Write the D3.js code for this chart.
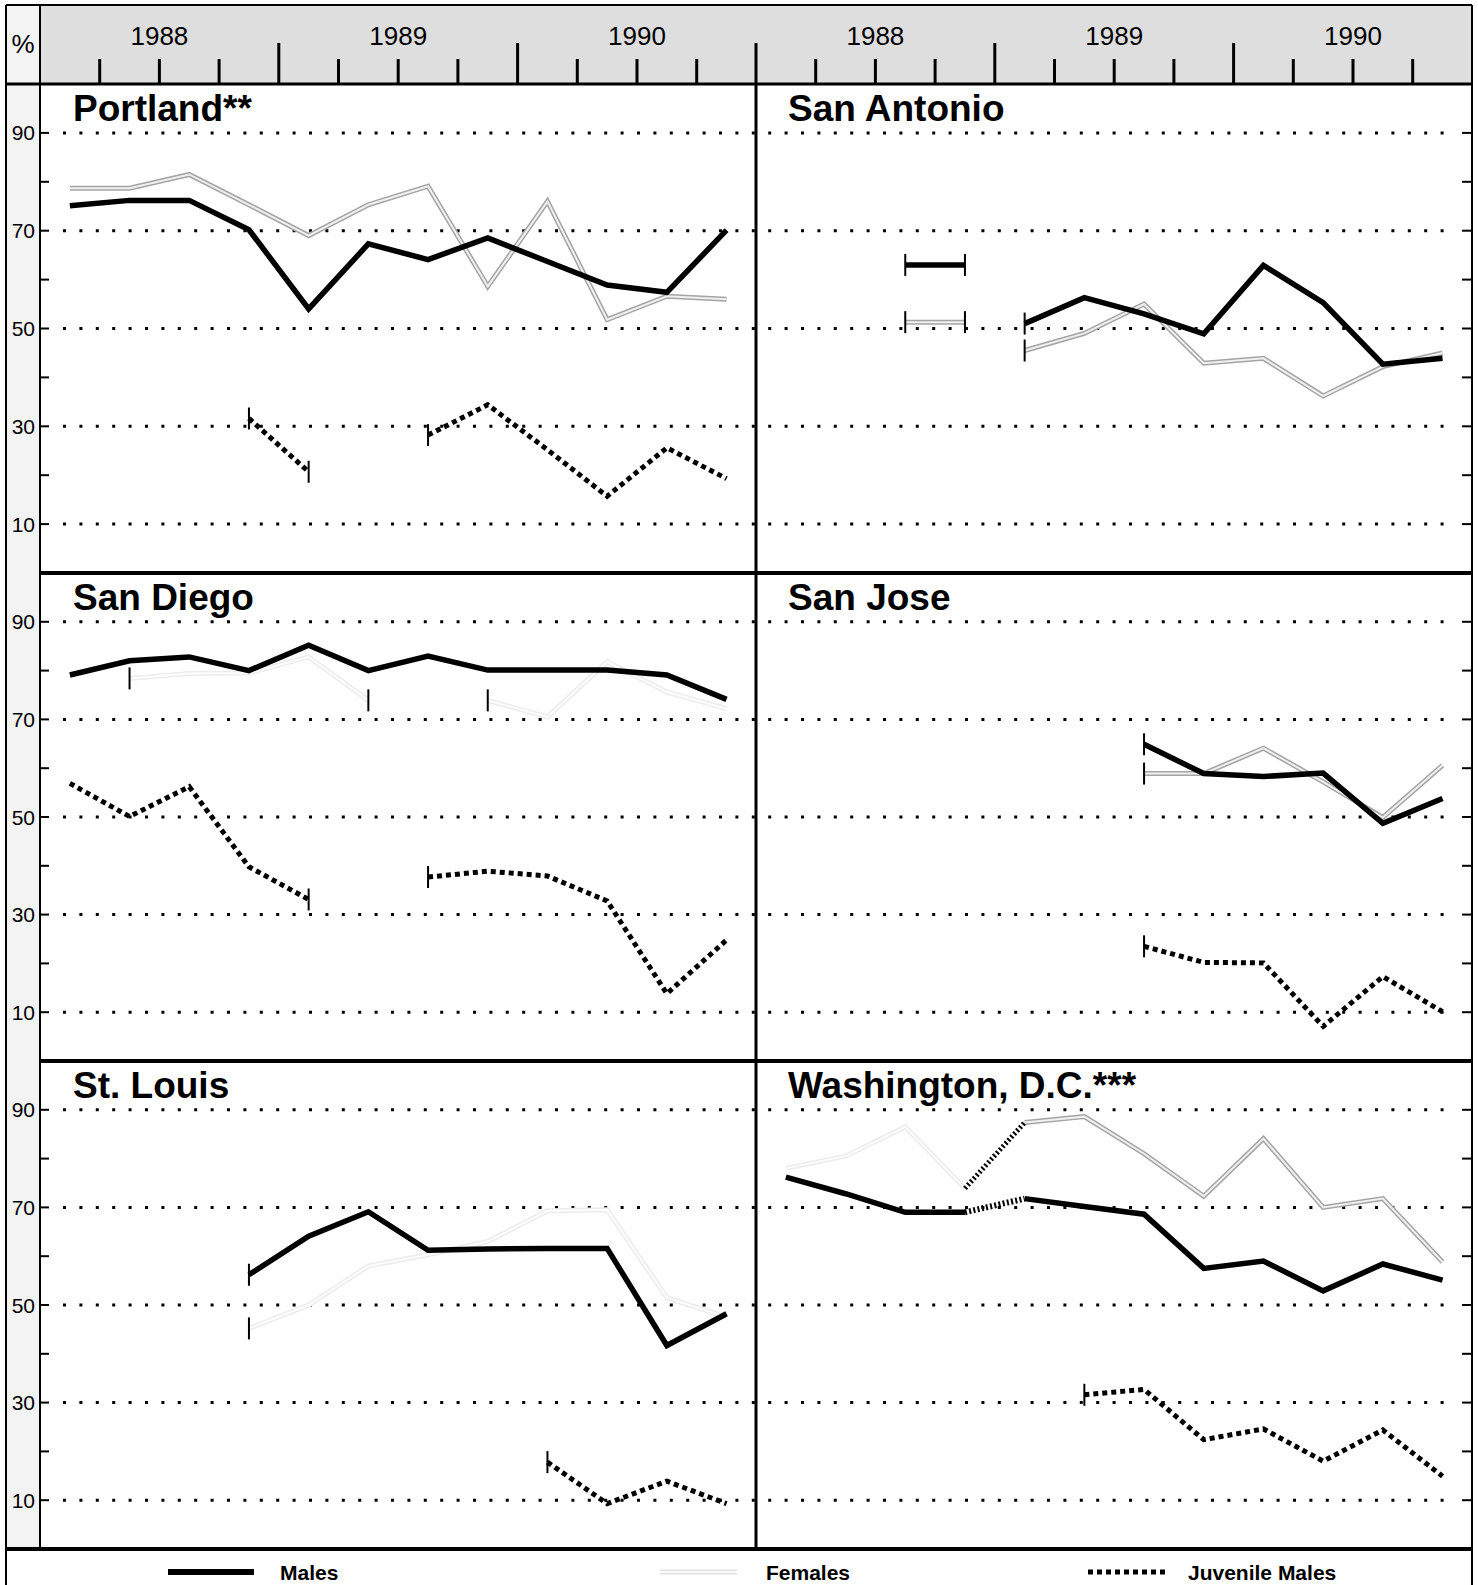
<!DOCTYPE html>
<html><head><meta charset="utf-8">
<script src="https://cdn.jsdelivr.net/npm/d3@7"></script>
<style>
body{margin:0;background:#fff}
svg{display:block}
text{font-family:"Liberation Sans",Arial,Helvetica,sans-serif;fill:#000}
</style>
</head><body>
<svg id="chart" width="1478" height="1585"></svg>
<script>
// ---------------- DATA ----------------
const quarters = ["1988 Q1","1988 Q2","1988 Q3","1988 Q4","1989 Q1","1989 Q2","1989 Q3","1989 Q4","1990 Q1","1990 Q2","1990 Q3","1990 Q4"];
const years = ["1988","1989","1990"];
const yTickValues = [10,20,30,40,50,60,70,80,90];
const yLabelValues = [10,30,50,70,90];
const cities = ["Portland**","San Antonio","San Diego","San Jose","St. Louis","Washington, D.C.***"];
const seriesNames = ["Females","Males","Juvenile Males"];

const portlandMales      = [75.1, 76.2, 76.2, 70.2, 54.0, 67.3, 64.1, 68.5, 63.7, 58.9, 57.4, 70.1];
const portlandFemales    = [78.7, 78.7, 81.5, 75.3, 69.0, 75.3, 79.1, 58.6, 76.0, 51.8, 56.6, 56.0];
const portlandJuveniles  = [null, null, null, 31.6, 20.7, null, 28.2, 34.4, 25.2, 15.7, 25.6, 19.3];

const sanAntonioMales     = [null, null, 63.0, 63.0, 51.0, 56.3, 53.0, 48.9, 62.9, 55.3, 42.7, 43.9];
const sanAntonioFemales   = [null, null, 51.3, 51.3, 45.5, 49.0, 55.0, 42.9, 43.9, 36.2, 42.2, 45.0];
const sanAntonioJuveniles = [null, null, null, null, null, null, null, null, null, null, null, null];

const sanDiegoMales     = [79.1, 82.0, 82.8, 80.0, 85.2, 80.0, 83.0, 80.1, 80.1, 80.1, 79.1, 74.1];
const sanDiegoFemales   = [null, 78.4, 79.4, 79.5, 82.8, 73.9, null, 73.9, 70.5, 81.8, 75.6, 72.2];
const sanDiegoJuveniles = [56.9, 50.1, 56.2, 39.8, 33.1, null, 37.7, 38.9, 37.9, 32.8, 13.8, 24.8];

const sanJoseMales     = [null, null, null, null, null, null, 64.9, 58.9, 58.3, 59.0, 48.7, 53.8];
const sanJoseFemales   = [null, null, null, null, null, null, 58.9, 58.9, 64.1, 57.2, 49.9, 60.6];
const sanJoseJuveniles = [null, null, null, null, null, null, 23.5, 20.2, 20.1, 7.1, 17.3, 10.1];

const stLouisMales     = [null, null, null, 56.2, 64.1, 69.1, 61.2, 61.5, 61.6, 61.6, 41.7, 48.2];
const stLouisFemales   = [null, null, null, 45.2, 50.0, 58.0, 60.3, 63.0, 69.3, 69.5, 51.5, 47.5];
const stLouisJuveniles = [null, null, null, null, null, null, null, null, 17.8, 9.3, 13.9, 9.3];

const dcMales     = [76.2, 72.8, 69.0, 69.0, 71.8, 70.2, 68.6, 57.5, 59.0, 52.9, 58.4, 55.1];
const dcFemales   = [78.0, 80.5, 86.5, 73.9, 87.4, 88.6, 81.0, 72.3, 84.1, 70.0, 71.8, 58.8];
const dcJuveniles = [null, null, null, null, null, 31.6, 32.7, 22.4, 24.6, 18.0, 24.4, 14.9];

// discontinuities in a series (no line drawn between index `after` and after+1)
const seriesBreaks = [
  {city:"San Antonio", series:"Males", after:3},
  {city:"San Antonio", series:"Females", after:3}
];
// links drawn with a hatched line (series change)
const hatchedLinks = [
  {city:"Washington, D.C.***", series:"Males", after:3},
  {city:"Washington, D.C.***", series:"Females", after:3}
];

const table = {
  "Portland**":          {"Males":portlandMales, "Females":portlandFemales, "Juvenile Males":portlandJuveniles},
  "San Antonio":         {"Males":sanAntonioMales, "Females":sanAntonioFemales, "Juvenile Males":sanAntonioJuveniles},
  "San Diego":           {"Males":sanDiegoMales, "Females":sanDiegoFemales, "Juvenile Males":sanDiegoJuveniles},
  "San Jose":            {"Males":sanJoseMales, "Females":sanJoseFemales, "Juvenile Males":sanJoseJuveniles},
  "St. Louis":           {"Males":stLouisMales, "Females":stLouisFemales, "Juvenile Males":stLouisJuveniles},
  "Washington, D.C.***": {"Males":dcMales, "Females":dcFemales, "Juvenile Males":dcJuveniles}
};

// ---------------- LAYOUT ----------------
const svg = d3.select("#chart");
const outerL = 6, axisX = 40, midX = 756, outerR = 1472;
const headerTop = 5, headerBottom = 84;
const rowEdges = [84, 573, 1061, 1549];
const qw = 59.7;
const panelLefts = [axisX, midX];

// backgrounds
svg.append("rect").attr("x", outerL).attr("y", headerTop).attr("width", axisX - outerL).attr("height", 1549 - headerTop).attr("fill", "#f3f3f3");
svg.append("rect").attr("x", axisX).attr("y", headerTop).attr("width", outerR - axisX).attr("height", headerBottom - headerTop).attr("fill", "#dedede");

const yScales = [0,1,2].map(r => d3.scaleLinear().domain([0,100]).range([rowEdges[r+1], rowEdges[r]]));
const xScales = panelLefts.map(L => d3.scaleBand().domain(quarters).range([L, L + 12*qw]).padding(0));
const bw = xScales[0].bandwidth();

const defs = svg.append("defs");
[0,1,2].forEach(r => panelLefts.forEach((L, c) => {
  defs.append("clipPath").attr("id", `clip${r}${c}`)
    .append("rect").attr("x", L + 1).attr("y", rowEdges[r]).attr("width", (c === 0 ? midX : outerR) - L - 2).attr("height", rowEdges[r+1] - rowEdges[r]);
}));

// header: ticks and years
panelLefts.forEach((L, c) => {
  const xs = xScales[c];
  const g = svg.append("g");
  quarters.forEach((q, k) => {
    if (k === 0 && c === 0) return;
    const x = xs(q);
    const tall = k % 4 === 0;
    g.append("line").attr("x1", x).attr("x2", x)
      .attr("y1", tall ? 43 : 59).attr("y2", headerBottom)
      .attr("stroke", "#000").attr("stroke-width", 3);
  });
  years.forEach((yr, i) => {
    const x0 = xs(quarters[i*4]);
    g.append("text").attr("x", x0 + 2*bw).attr("y", 45)
      .attr("text-anchor", "middle").attr("font-size", 26).text(yr);
  });
});
svg.append("text").attr("x", 23).attr("y", 53).attr("text-anchor", "middle").attr("font-size", 26).text("%");

// gridlines, ticks, labels
[0,1,2].forEach(r => {
  const ys = yScales[r];
  yLabelValues.forEach(v => {
    svg.append("line").attr("x1", 63).attr("x2", 1452).attr("y1", ys(v)).attr("y2", ys(v))
      .attr("stroke", "#000").attr("stroke-width", 3).attr("stroke-dasharray", "3,13.4");
    svg.append("text").attr("x", 35).attr("y", ys(v)).attr("dy", "0.36em")
      .attr("text-anchor", "end").attr("font-size", 21).text(v);
  });
  yTickValues.forEach(v => {
    svg.append("line").attr("x1", axisX).attr("x2", axisX + 9).attr("y1", ys(v)).attr("y2", ys(v))
      .attr("stroke", "#000").attr("stroke-width", 2);
    svg.append("line").attr("x1", outerR - 10).attr("x2", outerR).attr("y1", ys(v)).attr("y2", ys(v))
      .attr("stroke", "#000").attr("stroke-width", 2);
  });
});

function segmentsOf(values, city, series) {
  const cut = new Set(seriesBreaks.filter(b => b.city === city && b.series === series).map(b => b.after));
  const hcut = new Set(hatchedLinks.filter(b => b.city === city && b.series === series).map(b => b.after));
  const noCapStart = new Set([...hcut].map(i => i + 1));
  const segs = [];
  let cur = null;
  values.forEach((v, i) => {
    if (v == null) { if (cur) { segs.push(cur); cur = null; } return; }
    if (!cur) cur = {idx: [], capStart: i > 0 && !noCapStart.has(i)};
    cur.idx.push(i);
    if (cut.has(i) || hcut.has(i)) {
      cur.capEnd = cut.has(i);
      segs.push(cur);
      cur = null;
    }
  });
  if (cur) segs.push(cur);
  segs.forEach(s => {
    const last = s.idx[s.idx.length-1];
    if (s.capEnd === undefined) s.capEnd = last < quarters.length - 1;
  });
  return segs;
}

cities.forEach((city, ci) => {
  const r = Math.floor(ci / 2), c = ci % 2;
  const xs = xScales[c], ys = yScales[r];
  const g = svg.append("g").attr("clip-path", `url(#clip${r}${c})`);
  const px = i => xs(quarters[i]) + bw/2;
  const line = d3.line().x(d => px(d)).curve(d3.curveLinear);

  seriesNames.forEach(series => {
    const values = table[city][series];
    const segs = segmentsOf(values, city, series);
    line.y(i => ys(values[i]));
    segs.forEach(s => {
      const d = line(s.idx);
      if (series === "Females") {
        const faint = city === "San Diego" || city === "St. Louis" ||
          (city === "Washington, D.C.***" && s.idx[s.idx.length-1] <= 3);
        g.append("path").attr("d", d).attr("fill", "none")
          .attr("stroke", faint ? "#ececec" : "#a4a4a4").attr("stroke-width", 5).attr("stroke-linejoin", "miter");
        g.append("path").attr("d", d).attr("fill", "none")
          .attr("stroke", faint ? "#fdfdfd" : "#f0f0f0").attr("stroke-width", 2).attr("stroke-linejoin", "miter");
      } else if (series === "Males") {
        if (s.idx.length > 1)
          g.append("path").attr("d", d).attr("fill", "none").attr("stroke", "#000")
            .attr("stroke-width", 5.5).attr("stroke-linejoin", "miter");
      } else {
        g.append("path").attr("d", d).attr("fill", "none").attr("stroke", "#000")
          .attr("stroke-width", 5).attr("stroke-dasharray", "5,4");
      }
      const caps = [];
      if (s.capStart) caps.push(s.idx[0]);
      if (s.capEnd) caps.push(s.idx[s.idx.length-1]);
      caps.forEach(i => {
        g.append("line").attr("x1", px(i)).attr("x2", px(i))
          .attr("y1", ys(values[i]) - 11).attr("y2", ys(values[i]) + 11)
          .attr("stroke", "#000").attr("stroke-width", 2);
      });
    });
    hatchedLinks.filter(h => h.city === city && h.series === series).forEach(h => {
      const d = line([h.after, h.after + 1]);
      g.append("path").attr("d", d).attr("fill", "none").attr("stroke", "#000")
        .attr("stroke-width", series === "Males" ? 6 : 5).attr("stroke-dasharray", "2,2.3");
    });
  });

  svg.append("text").attr("x", panelLefts[c] + (c === 0 ? 33 : 32)).attr("y", rowEdges[r] + 37)
    .attr("font-size", 37).attr("font-weight", "bold").text(city);
});

// frame lines
const frame = svg.append("g").attr("stroke", "#000");
frame.append("line").attr("x1", outerL).attr("x2", outerR).attr("y1", headerTop).attr("y2", headerTop).attr("stroke-width", 2);
frame.append("line").attr("x1", outerL).attr("x2", outerL).attr("y1", headerTop).attr("y2", 1585).attr("stroke-width", 2);
frame.append("line").attr("x1", outerR).attr("x2", outerR).attr("y1", headerTop).attr("y2", 1585).attr("stroke-width", 2);
frame.append("line").attr("x1", axisX).attr("x2", axisX).attr("y1", headerTop).attr("y2", rowEdges[3]).attr("stroke-width", 2);
frame.append("line").attr("x1", outerL).attr("x2", outerR).attr("y1", headerBottom).attr("y2", headerBottom).attr("stroke-width", 3);
[rowEdges[1], rowEdges[2]].forEach(y => frame.append("line").attr("x1", axisX).attr("x2", outerR).attr("y1", y).attr("y2", y).attr("stroke-width", 4));
frame.append("line").attr("x1", outerL).attr("x2", outerR).attr("y1", rowEdges[3]).attr("y2", rowEdges[3]).attr("stroke-width", 4);
frame.append("line").attr("x1", midX).attr("x2", midX).attr("y1", headerBottom).attr("y2", rowEdges[3]).attr("stroke-width", 3);

// legend
const legY = 1572;
const leg = svg.append("g");
leg.append("line").attr("x1", 168).attr("x2", 254).attr("y1", legY).attr("y2", legY).attr("stroke", "#000").attr("stroke-width", 6);
leg.append("text").attr("x", 280).attr("y", legY + 8).attr("font-size", 21).attr("font-weight", "bold").text("Males");
leg.append("line").attr("x1", 660).attr("x2", 737).attr("y1", legY).attr("y2", legY).attr("stroke", "#e2e2e2").attr("stroke-width", 5);
leg.append("line").attr("x1", 660).attr("x2", 737).attr("y1", legY).attr("y2", legY).attr("stroke", "#fafafa").attr("stroke-width", 2);
leg.append("text").attr("x", 766).attr("y", legY + 8).attr("font-size", 21).attr("font-weight", "bold").text("Females");
leg.append("line").attr("x1", 1088).attr("x2", 1168).attr("y1", legY).attr("y2", legY).attr("stroke", "#000").attr("stroke-width", 5).attr("stroke-dasharray", "5,4");
leg.append("text").attr("x", 1188).attr("y", legY + 8).attr("font-size", 21).attr("font-weight", "bold").text("Juvenile Males");
</script>
</body></html>
